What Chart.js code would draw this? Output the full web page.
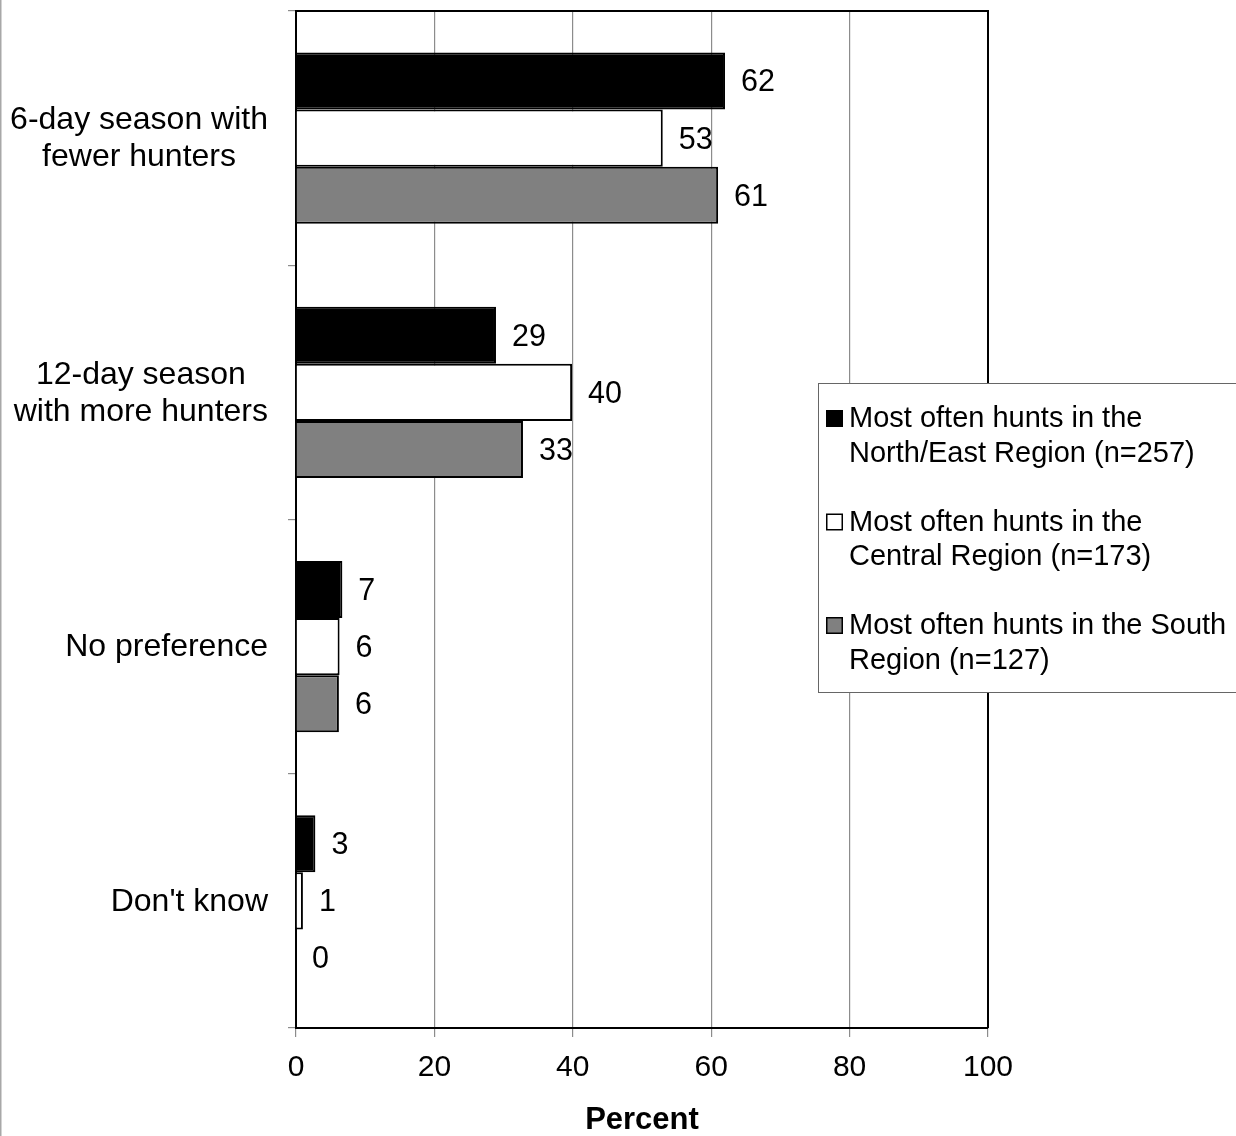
<!DOCTYPE html>
<html>
<head>
<meta charset="utf-8">
<script src="https://cdn.jsdelivr.net/npm/chart.js@4/dist/chart.umd.min.js"></script>
<style>
  html, body { margin: 0; padding: 0; background: #fff; }
  #wrap { position: relative; width: 1236px; height: 1136px; }
</style>
</head>
<body>
<div id="wrap"><canvas id="c"></canvas></div>
<script>
const categories = [
  ['6-day season with', 'fewer hunters'],
  ['12-day season', 'with more hunters'],
  ['No preference'],
  ["Don't know"]
];
const seriesLabels = [
  ['Most often hunts in the', 'North/East Region (n=257)'],
  ['Most often hunts in the', 'Central Region (n=173)'],
  ['Most often hunts in the South', 'Region (n=127)']
];
const northEast = [62, 28.9, 6.7, 2.8];
const central   = [53, 39.9, 6.3, 1.0];
const south     = [61, 32.8, 6.2, 0];
const xTicks = [0, 20, 40, 60, 80, 100];
const seriesColors = ['#000000', '#ffffff', '#808080'];

const FONT = '"Liberation Sans", Arial, Helvetica, sans-serif';

const decorPlugin = {
  id: 'decor',
  beforeDraw(chart) {
    const ctx = chart.ctx;
    ctx.save();
    ctx.fillStyle = '#ffffff';
    ctx.fillRect(0, 0, chart.width, chart.height);
    ctx.fillStyle = '#a8a8a8';
    ctx.fillRect(0, 0, 1.5, chart.height);
    ctx.restore();
  },
  afterDatasetsDraw(chart) {
    const ctx = chart.ctx;
    const a = chart.chartArea;
    ctx.save();
    // frame top and right
    ctx.strokeStyle = '#000';
    ctx.lineWidth = 2;
    ctx.beginPath();
    ctx.moveTo(a.left - 1, a.top);
    ctx.lineTo(a.right, a.top);
    ctx.lineTo(a.right, a.bottom);
    ctx.stroke();

    // value labels
    ctx.font = '30.5px ' + FONT;
    ctx.fillStyle = '#000';
    ctx.textAlign = 'left';
    ctx.textBaseline = 'middle';
    chart.data.datasets.forEach((ds, di) => {
      const meta = chart.getDatasetMeta(di);
      meta.data.forEach((bar, i) => {
        const v = ds.data[i];
        ctx.fillText(String(Math.round(v)), bar.x + 16, bar.y + 2);
      });
    });

    // category labels
    const ys = chart.scales.y;
    ctx.font = '32px ' + FONT;
    ctx.textAlign = 'center';
    const lh = 37;
    const rightEdge = ys.right - 28;
    categories.forEach((lines, i) => {
      const cy = ys.getPixelForValue(i) + 1;
      const w = Math.max(...lines.map(l => ctx.measureText(l).width));
      const cx = rightEdge - w / 2;
      const startY = cy - (lines.length - 1) * lh / 2;
      lines.forEach((l, k) => ctx.fillText(l, cx, startY + k * lh));
    });

    // legend
    const lx = 818.5, ly = 383.5, lw = 430, lhgt = 309;
    ctx.fillStyle = '#fff';
    ctx.fillRect(lx, ly, lw, lhgt);
    ctx.strokeStyle = '#666';
    ctx.lineWidth = 1;
    ctx.strokeRect(lx, ly, lw, lhgt);
    ctx.font = '29px ' + FONT;
    ctx.textAlign = 'left';
    ctx.textBaseline = 'alphabetic';
    const lineStep = 34.5;
    chart.data.datasets.forEach((ds, di) => {
      const base = 427 + di * 103.5;
      ctx.fillStyle = ds.backgroundColor;
      ctx.fillRect(826, base - 17, 17, 17);
      ctx.strokeStyle = '#000';
      ctx.lineWidth = 1.5;
      ctx.strokeRect(826.75, base - 16.25, 15.5, 15.5);
      ctx.fillStyle = '#000';
      seriesLabels[di].forEach((t, k) => ctx.fillText(t, 849, base + k * lineStep));
    });
    ctx.restore();
  }
};

const mkDs = (label, data, color) => ({
  label: label.join(' '),
  data: data,
  backgroundColor: color,
  borderColor: '#000',
  borderWidth: (c) => (c.raw === 0 ? 0 : 2),
  borderSkipped: 'start',
  categoryPercentage: 0.673,
  barPercentage: 1.0
});

new Chart(document.getElementById('c'), {
  type: 'bar',
  data: {
    labels: categories,
    datasets: [
      mkDs(seriesLabels[0], northEast, seriesColors[0]),
      mkDs(seriesLabels[1], central, seriesColors[1]),
      mkDs(seriesLabels[2], south, seriesColors[2])
    ]
  },
  options: {
    indexAxis: 'y',
    responsive: true,
    maintainAspectRatio: false,
    animation: false,
    devicePixelRatio: 1,
    layout: { padding: { top: 11, right: 248, bottom: 0, left: 0 } },
    plugins: {
      legend: { display: false },
      tooltip: { enabled: false },
      title: { display: false }
    },
    scales: {
      x: {
        type: 'linear',
        min: xTicks[0],
        max: xTicks[xTicks.length - 1],
        afterBuildTicks: (s) => { s.ticks = xTicks.map(v => ({ value: v })); },
        ticks: {
          font: { family: FONT, size: 30 },
          color: '#000',
          padding: 13
        },
        grid: {
          color: '#8c8c8c',
          lineWidth: 1.2,
          drawTicks: true,
          tickLength: 9
        },
        border: { display: true, color: '#000', width: 2 },
        title: {
          display: true,
          text: 'Percent',
          color: '#000',
          font: { family: FONT, size: 31, weight: 'bold', lineHeight: 1.0 },
          padding: { top: 6, bottom: 0 }
        }
      },
      y: {
        type: 'category',
        offset: true,
        afterFit: (s) => { s.width = 296; },
        ticks: { display: false },
        grid: {
          offset: true,
          drawOnChartArea: false,
          drawTicks: true,
          tickLength: 8,
          color: '#8c8c8c',
          lineWidth: 1.2
        },
        border: { display: true, color: '#000', width: 2 }
      }
    }
  },
  plugins: [decorPlugin]
});
</script>
</body>
</html>
